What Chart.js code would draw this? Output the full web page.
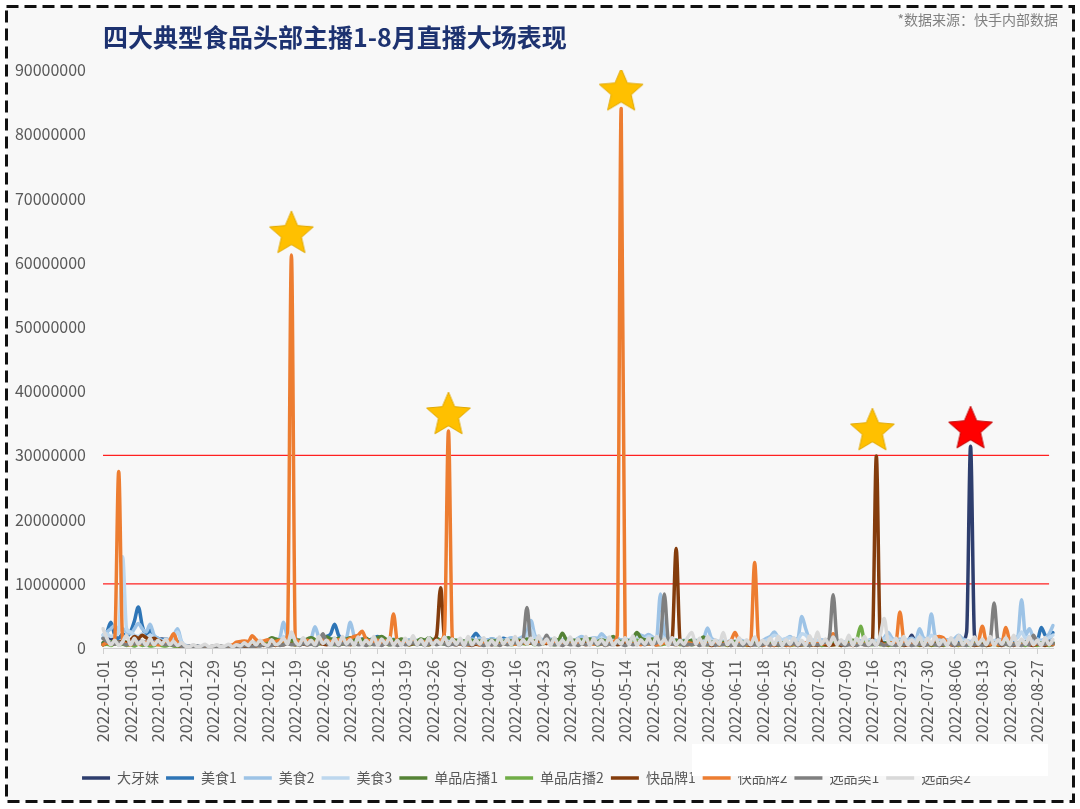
<!DOCTYPE html>
<html>
<head>
<meta charset="utf-8">
<title>四大典型食品头部主播1-8月直播大场表现</title>
<script src="https://cdn.jsdelivr.net/npm/chart.js@4.4.1/dist/chart.umd.min.js"></script>
<style>
  html, body { margin: 0; padding: 0; background: #fff; overflow: hidden; }
  #frame { position: absolute; left: 0; top: 0; }
  #myChart { position: absolute; left: 0; top: 0; }
  #patch { position: absolute; left: 692px; top: 744px; width: 356px; height: 32px; background: #fff; }
</style>
</head>
<body>
<svg id="frame" width="1080" height="809">
  <rect x="6.5" y="6.5" width="1067" height="795" fill="#f8f8f8" stroke="#111" stroke-width="3" stroke-dasharray="12 6"></rect>
</svg>
<canvas id="myChart" width="1080" height="809"></canvas>
<div id="patch"></div>
<script>
// values are in millions (x 1,000,000), one per day from 2022-01-01 to 2022-08-31
var UNIT = 1000000;
var START_DATE = "2022-01-01";

var daYaMei = [
  0.8,1.2,1.5,1.0,0.9,1.1,0.8, 1.0,0.9,1.2,1.0,0.9,1.1,1.3, 1.2,1.4,1.2,1.0,0.5,0.4,0.3, 0.2,0.2,0.1,0.2,0.1,0.1,0.2, 0.1,0.1,0.2,
  0.2,0.1,0.2,0.3,0.4,0.5,0.4, 0.6,0.5,0.7,0.6,0.8,0.7,0.9, 0.8,1.0,0.9,1.2,1.0,0.8,0.9, 1.1,0.9,1.0,0.8,1.2,1.0,0.9,
  1.1,0.9,1.0,1.2,0.8,1.0,0.9, 1.1,0.8,0.9,1.0,0.7,0.9,0.8, 1.0,0.7,0.8,0.9,0.6,0.8,0.7, 0.9,0.6,0.8,0.7,0.9,0.6,0.8, 0.7,0.6,0.8,
  0.7,0.6,0.8,0.7,0.9,0.7,0.8, 0.6,0.8,0.7,0.9,0.8,0.7,0.9, 0.8,0.7,0.9,0.8,1.0,0.8,0.7, 0.9,0.8,0.7,0.9,0.8,0.6,0.8, 0.7,0.9,
  0.8,0.7,0.9,0.8,0.6,0.8,0.7, 0.9,0.7,0.8,0.6,0.7,0.8,0.6, 0.7,0.8,0.6,0.7,0.9,0.7,0.6, 0.8,0.7,0.9,0.7,0.6,0.8,0.7, 0.6,0.8,0.7,
  0.6,0.8,0.7,0.6,0.8,0.7,0.5, 0.7,0.6,0.8,0.6,0.7,0.5,0.7, 0.6,0.5,0.7,0.6,0.8,0.6,0.5, 0.7,0.6,0.8,0.6,0.7,0.5,0.6, 0.7,0.6,
  0.5,0.7,0.6,0.5,0.7,0.6,0.8, 0.6,0.5,0.7,0.6,0.5,0.7,0.6, 0.8,0.6,0.5,0.7,0.6,0.8,0.6, 0.7,0.6,0.8,0.9,2.0,0.8,0.6, 0.7,0.9,0.8,
  0.7,0.8,0.6,0.9,0.7,0.8,0.9, 1.2,2.5,31.4,2.0,0.9,0.8,0.7, 0.9,0.8,0.7,0.9,0.8,0.7,0.9, 0.8,0.7,0.9,0.8,0.7,0.6,0.8, 0.7,0.9,0.8
];
var meiShi1 = [
  1.5,2.5,4.0,2.0,1.5,2.2,1.8, 2.5,4.2,6.4,3.5,2.0,2.8,1.8, 1.5,1.3,1.4,1.2,1.5,1.0,0.4, 0.3,0.2,0.3,0.2,0.2,0.1,0.2, 0.2,0.1,0.2,
  0.2,0.3,0.2,0.4,0.5,0.6,0.5, 0.8,0.7,0.6,0.9,0.8,1.0,0.9, 1.2,1.0,1.4,1.3,1.1,0.9,1.2, 1.0,1.3,1.1,0.9,1.5,1.8,2.2,
  3.7,2.0,1.4,1.2,1.5,1.3,1.1, 1.4,1.2,1.3,1.5,1.8,1.3,1.1, 1.2,1.0,1.3,1.1,0.9,1.2,1.0, 1.1,0.9,1.2,1.0,0.8,1.1,0.9, 1.0,0.8,1.0,
  0.9,1.1,1.0,1.2,1.5,2.3,1.5, 1.3,1.2,1.4,1.3,1.2,1.5,1.3, 1.2,1.4,1.1,1.3,1.0,1.2,0.9, 1.1,1.0,0.9,1.2,1.0,0.8,1.1, 0.9,1.0,
  0.9,0.8,1.0,0.9,0.7,1.0,0.8, 0.9,1.1,0.8,1.0,0.9,1.2,0.8, 0.9,1.0,0.8,1.1,0.9,0.8,1.0, 0.9,1.1,1.0,0.8,0.9,1.0,0.8, 0.9,1.1,1.0,
  0.8,1.0,0.9,0.7,0.9,0.8,1.0, 0.7,0.9,0.8,0.6,0.8,0.9,0.7, 0.8,0.6,0.7,0.9,0.8,0.6,0.7, 0.8,0.9,0.7,0.6,0.8,0.7,0.9, 0.8,0.7,
  0.7,0.8,0.6,0.7,0.9,0.8,0.6, 0.7,0.8,0.9,0.7,0.6,0.8,0.7, 0.9,0.8,0.7,0.6,0.8,0.7,0.9, 0.8,0.7,0.9,0.8,0.6,0.7,0.8, 0.9,0.7,0.8,
  0.8,0.9,0.7,0.8,1.0,0.9,0.8, 0.7,0.9,0.8,1.0,0.9,0.8,0.7, 0.9,1.0,0.8,0.9,0.7,1.0,0.9, 0.8,1.0,0.9,1.1,1.5,1.2,3.2, 2.0,1.5,2.4
];
var meiShi2 = [
  2.0,2.5,3.0,3.5,2.8,3.0,2.5, 2.2,3.0,3.8,3.0,2.5,3.7,2.0, 1.5,1.2,1.0,1.4,2.0,3.0,1.0, 0.4,0.3,0.2,0.3,0.2,0.2,0.1, 0.2,0.2,0.1,
  0.2,0.3,0.2,0.4,0.3,0.5,0.6, 0.5,0.7,0.6,0.8,0.7,1.0,1.2, 1.5,4.0,1.8,2.0,1.5,1.2,1.4, 1.3,1.5,3.3,1.6,1.2,1.0,1.3,
  1.5,1.2,1.4,1.6,4.0,1.8,1.2, 1.0,1.3,1.1,1.4,1.2,1.0,1.3, 1.1,1.4,1.2,1.0,1.3,1.1,0.9, 1.2,1.0,1.3,1.1,0.9,1.2,1.0, 0.9,1.1,1.0,
  1.1,1.3,1.0,1.2,1.4,1.2,1.5, 1.3,1.2,1.4,1.3,1.5,1.2,1.4, 1.6,1.3,1.5,1.8,2.5,4.3,2.0, 1.5,1.3,1.2,1.4,1.1,1.3,1.2, 1.4,1.3,
  1.2,1.5,1.8,1.3,1.4,1.6,1.5, 2.2,1.6,1.4,1.3,1.5,1.2,1.4, 1.3,1.6,2.2,2.0,1.8,2.1,1.7, 1.5,8.4,2.0,1.4,1.2,1.3,1.1, 1.2,1.0,1.2,
  1.2,1.0,1.4,3.1,1.5,1.2,1.0, 1.1,0.9,1.2,1.0,1.3,1.1,0.9, 1.0,1.2,0.9,1.1,1.5,1.8,2.5, 1.6,1.2,1.4,1.8,1.3,1.5,4.9, 3.0,1.4,
  1.2,1.0,1.3,1.1,0.9,1.2,1.0, 1.1,0.9,1.2,1.0,1.3,1.1,1.0, 1.2,1.4,1.1,1.3,1.6,2.4,1.5, 1.2,1.4,1.1,1.3,1.5,1.2,3.0, 1.6,1.4,5.3,
  1.8,1.4,1.2,1.3,1.1,1.5,2.0, 1.4,1.2,1.0,1.3,1.1,1.2,1.0, 1.3,1.1,1.4,1.2,1.5,1.3,1.6, 1.8,7.5,2.0,3.0,1.6,1.4,1.2, 1.5,2.2,3.5
];
var meiShi3 = [
  2.0,2.2,1.8,2.0,2.5,14.2,3.0, 2.5,2.0,1.8,2.2,1.6,2.0,1.5, 1.2,1.0,1.3,1.1,1.5,2.5,0.8, 0.3,0.2,0.2,0.1,0.2,0.1,0.2, 0.1,0.2,0.1,
  0.2,0.1,0.2,0.3,0.2,0.4,0.3, 0.5,0.4,0.6,0.5,0.7,0.6,0.8, 0.9,1.8,1.2,1.5,1.0,0.9,1.1, 1.0,0.8,1.2,1.0,0.9,1.1,0.8,
  1.0,0.9,1.1,0.8,1.6,1.0,0.9, 0.8,1.0,0.9,1.1,0.8,0.9,1.0, 0.8,1.1,0.9,0.8,1.0,0.9,0.7, 0.9,0.8,1.0,0.9,0.7,0.9,0.8, 0.7,0.9,0.8,
  0.9,0.8,1.0,0.9,1.1,1.0,0.9, 1.0,0.8,1.1,0.9,1.0,0.8,1.0, 1.1,0.9,1.2,1.5,2.0,2.8,1.6, 1.2,1.0,0.9,1.1,1.0,0.8,1.0, 0.9,1.1,
  1.0,1.2,1.0,0.9,1.1,1.3,1.0, 1.5,1.2,1.0,1.1,0.9,1.0,1.2, 1.0,1.3,1.5,1.6,1.4,1.8,1.5, 1.3,2.0,1.5,1.2,1.0,1.1,0.9, 1.0,1.1,0.9,
  1.0,0.9,1.1,1.8,1.2,1.0,0.9, 1.0,0.8,1.0,0.9,1.1,0.9,0.8, 1.0,1.2,0.9,1.0,1.2,1.5,2.0, 1.8,1.3,1.5,1.6,1.2,1.3,2.2, 2.0,1.3,
  1.0,1.2,0.9,1.0,0.8,1.1,0.9, 1.0,0.8,1.1,0.9,1.0,0.8,0.9, 1.1,1.2,1.0,1.3,1.4,1.8,1.2, 1.0,1.1,0.9,1.0,1.2,1.0,1.8, 1.3,1.2,2.0,
  1.5,1.2,1.0,1.1,0.9,1.2,1.4, 1.1,1.0,0.9,1.1,1.0,1.2,0.9, 1.0,1.1,1.2,1.0,1.3,1.1,1.4, 1.6,2.5,1.5,1.8,1.3,1.2,1.0, 1.3,1.6,2.0
];
var danPin1 = [
  0.8,1.0,0.9,1.1,0.8,1.0,0.9, 0.7,0.9,0.8,1.0,0.7,0.9,0.8, 0.6,0.8,0.7,0.5,0.6,0.4,0.3, 0.2,0.2,0.1,0.2,0.1,0.2,0.1, 0.1,0.2,0.1,
  0.2,0.1,0.2,0.3,0.2,0.4,0.3, 0.5,0.6,0.8,0.9,1.2,1.6,1.4, 1.2,1.0,0.9,1.1,1.3,1.2,1.0, 1.4,1.6,1.3,1.1,1.5,1.7,1.4,
  1.3,1.5,1.2,1.4,1.6,1.3,1.1, 1.3,1.5,1.2,1.4,1.6,1.8,1.4, 1.2,1.3,1.1,1.4,1.2,1.0,1.3, 1.1,1.4,1.2,1.6,1.3,1.5,1.2, 1.4,1.6,1.3,
  1.2,1.0,1.1,0.9,1.2,1.0,1.1, 0.9,1.0,1.2,1.1,1.3,1.0,1.2, 1.1,1.3,1.2,1.0,1.4,1.2,1.1, 1.3,1.0,1.2,1.1,1.4,1.2,2.3, 1.3,1.1,
  1.2,1.0,1.3,1.1,1.4,1.2,1.0, 1.3,1.1,1.4,1.8,1.2,1.0,1.3, 1.1,1.5,2.4,1.6,1.3,1.1,1.4, 1.2,1.0,1.3,1.1,1.0,1.2,0.9, 1.1,1.0,1.2,
  1.0,1.2,1.7,1.1,0.9,1.0,0.8, 0.9,0.7,0.8,1.0,0.7,0.9,0.8, 0.6,0.8,0.7,0.9,0.6,0.8,0.7, 0.6,0.8,0.7,0.5,0.7,0.6,0.8, 0.7,0.6,
  0.8,0.6,0.7,0.9,0.7,0.8,1.0, 0.8,0.7,0.9,1.2,1.0,0.8,0.7, 0.9,0.8,0.6,0.8,0.7,0.9,0.8, 0.7,0.9,0.8,0.6,0.8,0.7,0.9, 0.8,0.7,0.6,
  0.7,0.8,0.6,0.7,0.9,0.7,0.6, 0.8,0.7,0.6,0.8,0.9,0.7,0.6, 0.8,0.7,0.9,0.6,0.8,0.7,0.6, 0.8,0.7,0.9,0.8,0.6,0.7,0.8, 0.6,0.7,0.8
];
var danPin2 = [
  0.5,0.6,0.4,0.7,0.5,0.6,0.4, 0.5,0.3,0.6,0.4,0.5,0.3,0.4, 0.6,0.4,0.3,0.5,0.3,0.2,0.2, 0.1,0.1,0.2,0.1,0.1,0.1,0.2, 0.1,0.1,0.1,
  0.1,0.2,0.1,0.2,0.3,0.2,0.4, 0.3,0.5,0.4,0.6,0.8,1.0,0.8, 0.7,0.6,0.8,0.7,0.5,0.7,0.6, 0.8,0.7,0.5,0.6,0.8,0.7,0.6,
  0.5,0.7,0.6,0.8,0.6,0.5,0.7, 0.6,0.8,0.5,0.7,0.6,0.8,0.7, 0.5,0.6,0.8,0.6,0.7,0.5,0.6, 0.8,0.6,0.7,0.5,0.6,0.8,0.7, 0.6,0.5,0.7,
  0.6,0.8,0.5,0.7,0.6,0.8,0.7, 0.5,0.6,0.7,0.5,0.8,0.6,0.7, 0.5,0.6,0.8,0.7,0.6,0.8,0.5, 0.7,0.6,0.8,0.7,0.5,0.6,0.8, 0.7,0.6,
  0.7,0.5,0.6,0.8,0.6,0.7,0.5, 0.6,0.8,0.7,0.9,0.6,0.7,0.5, 0.6,0.8,1.2,0.9,0.7,0.6,0.8, 0.7,0.5,0.6,0.8,0.6,0.7,0.5, 0.6,0.7,0.5,
  0.6,0.8,0.7,0.5,0.6,0.7,0.5, 0.6,0.4,0.5,0.7,0.5,0.6,0.4, 0.5,0.6,0.4,0.5,0.7,0.5,0.6, 0.4,0.5,0.6,0.4,0.5,0.7,0.5, 0.6,0.4,
  0.5,0.6,0.4,0.5,0.7,0.5,0.6, 0.4,0.5,0.6,0.8,1.2,3.4,1.0, 0.6,0.5,0.7,0.5,0.6,0.4,0.5, 0.6,0.4,0.5,0.7,0.5,0.6,0.4, 0.5,0.6,0.4,
  0.5,0.6,0.4,0.5,0.7,0.5,0.4, 0.6,0.5,0.4,0.6,0.5,0.7,0.4, 0.5,0.6,0.4,0.5,0.6,0.4,0.5, 0.7,0.5,0.4,0.6,0.5,0.4,0.6, 0.5,0.4,0.6
];
var kuaiPin1 = [
  0.5,0.8,0.6,0.7,0.9,1.0,0.8, 1.2,1.8,1.5,2.0,1.6,1.3,1.5, 1.2,1.0,0.8,0.6,0.5,0.4,0.3, 0.2,0.2,0.1,0.2,0.1,0.1,0.2, 0.1,0.1,0.1,
  0.1,0.2,0.1,0.2,0.3,0.2,0.3, 0.4,0.3,0.5,0.4,0.6,0.5,0.4, 0.6,0.5,0.7,0.6,0.5,0.7,0.6, 0.5,0.7,0.6,0.8,0.6,0.5,0.7,
  0.6,0.5,0.7,0.6,0.5,0.8,0.6, 0.7,0.5,0.6,0.8,0.6,0.5,0.7, 0.6,0.8,0.5,0.7,0.6,0.5,0.7, 0.6,0.8,0.6,0.5,1.0,2.0,9.4, 1.5,0.8,0.6,
  0.5,0.7,0.6,0.5,0.4,0.6,0.5, 0.7,0.6,0.5,0.7,0.6,0.8,1.0, 0.9,0.8,1.0,0.9,0.7,0.8,0.9, 1.0,0.8,0.7,0.9,0.8,0.6,0.8, 0.7,0.6,
  0.7,0.8,0.6,0.7,0.9,0.8,0.6, 0.7,0.8,0.6,0.7,0.5,0.6,0.8, 0.7,0.6,0.8,0.7,0.6,0.8,0.7, 0.5,0.6,0.8,0.7,1.5,15.5,1.2, 0.6,0.5,0.7,
  0.6,0.5,0.7,0.6,0.4,0.5,0.7, 0.6,0.5,0.4,0.6,0.5,0.7,0.5, 0.4,0.6,0.5,0.4,0.6,0.5,0.4, 0.5,0.6,0.4,0.5,0.6,0.4,0.5, 0.6,0.4,
  0.5,0.4,0.6,0.5,0.4,0.5,0.6, 0.4,0.5,0.6,0.4,0.5,0.7,0.5, 0.6,1.2,29.9,1.5,0.6,0.5,0.7, 0.5,0.6,0.4,0.5,0.7,0.6,0.5, 0.4,0.6,0.5,
  0.6,0.4,0.5,0.7,0.5,0.4,0.6, 0.5,0.7,0.6,0.4,0.5,0.6,0.4, 0.5,0.7,0.5,0.4,0.6,0.5,0.4, 0.6,0.5,0.7,0.5,0.4,0.6,0.5, 0.4,0.6,0.5
];
var kuaiPin2 = [
  0.5,0.8,0.6,1.5,27.5,1.2,0.6, 0.5,0.8,0.6,0.7,0.9,0.6,0.8, 0.5,0.7,0.9,1.2,2.2,0.8,0.3, 0.2,0.1,0.2,0.1,0.1,0.2,0.1, 0.1,0.2,0.1,
  0.2,0.3,0.5,0.9,1.0,1.1,1.0, 1.9,1.3,1.0,1.1,1.3,1.1,1.0, 1.2,1.1,2.0,61.2,1.5,1.0,0.8, 1.2,1.0,0.9,1.1,1.3,1.2,1.0,
  1.1,1.3,1.0,1.2,1.5,1.8,2.0, 2.6,1.4,1.1,1.0,1.2,0.9,1.1, 1.3,5.3,1.0,0.8,1.0,0.9,1.1, 0.8,1.0,0.9,0.7,0.9,0.8,1.2, 2.5,33.8,1.5,
  0.8,0.6,0.7,0.5,0.6,0.8,0.5, 0.7,0.6,0.8,0.7,0.5,0.6,0.8, 0.7,0.6,0.8,0.9,0.7,1.0,0.8, 0.6,0.7,0.9,0.6,0.8,0.7,0.5, 0.7,0.6,
  0.7,0.6,0.8,0.5,0.7,0.6,0.8, 0.7,0.5,0.6,1.0,2.0,84.0,1.5, 0.8,0.6,0.7,0.5,0.8,0.6,0.7, 0.5,0.6,0.8,0.7,0.6,0.5,0.7, 0.6,0.8,0.7,
  0.6,0.7,0.5,0.6,0.8,0.7,0.5, 0.6,0.8,1.2,2.4,1.0,0.6,0.5, 1.0,13.3,1.0,0.5,0.6,0.4,0.5, 0.6,0.7,0.5,0.4,0.6,0.5,0.7, 0.8,0.6,
  0.5,0.7,0.6,0.8,1.2,2.2,1.0, 0.7,0.5,0.6,0.8,0.5,0.7,0.6, 0.5,0.8,0.6,0.7,0.5,0.6,0.8, 1.0,5.6,1.2,0.6,0.5,0.7,0.6, 0.5,0.7,0.6,
  1.5,1.8,1.6,0.8,0.6,0.7,0.5, 0.6,0.8,0.7,0.6,1.0,3.4,0.9, 0.6,0.7,0.5,0.8,3.2,1.0,0.6, 0.7,0.5,0.6,0.8,0.6,0.7,0.5, 0.6,0.8,0.6
];
var xuanPin1 = [
  1.5,1.0,0.8,0.6,0.9,0.7,0.5, 0.8,0.6,0.9,0.7,0.5,0.8,0.6, 0.9,0.7,0.5,0.6,0.4,0.5,0.3, 0.2,0.3,0.2,0.3,0.2,0.3,0.2, 0.3,0.2,0.3,
  0.2,0.3,0.2,0.3,0.2,0.4,0.3, 0.2,0.4,0.3,0.5,0.3,0.4,0.6, 0.4,0.5,0.7,0.5,0.6,0.4,0.7, 0.5,0.6,0.4,0.7,2.2,0.8,0.5,
  0.6,0.4,0.7,0.5,0.6,0.8,0.5, 0.6,0.4,0.7,0.5,0.6,0.4,0.8, 0.5,0.6,0.4,0.7,0.5,0.6,0.8, 0.5,0.7,0.4,0.6,0.8,0.5,0.7, 0.6,0.4,0.6,
  0.5,0.7,0.4,0.6,0.5,0.8,0.6, 0.4,0.7,0.5,0.6,0.4,0.7,0.5, 0.6,0.8,0.5,1.2,6.3,1.0,0.6, 0.5,0.7,2.0,0.8,0.5,0.6,0.4, 0.7,0.5,
  0.6,0.4,0.7,0.5,0.6,0.8,0.5, 0.7,0.4,0.6,0.5,0.8,0.6,0.4, 0.7,0.5,0.6,0.8,0.5,0.7,0.6, 0.8,1.5,8.4,1.2,0.6,0.5,0.7, 0.4,0.6,0.5,
  0.7,0.4,0.6,0.5,0.8,0.4,0.6, 0.5,0.7,0.4,0.6,0.5,0.4,0.7, 0.5,0.6,0.4,0.5,0.7,0.4,0.6, 0.5,0.4,0.6,0.5,0.7,0.4,0.6, 0.5,0.4,
  0.6,0.5,0.7,0.9,1.5,8.3,1.2, 0.6,0.4,0.5,0.7,0.4,0.6,0.5, 0.4,0.6,0.5,0.7,0.4,0.6,0.5, 0.4,0.6,0.5,0.7,0.4,0.5,0.6, 0.4,0.5,0.7,
  0.5,0.4,0.6,0.5,0.7,0.4,0.6, 0.5,0.4,0.6,0.5,0.7,0.4,0.6, 1.2,7.0,1.0,0.5,0.6,0.4,0.5, 0.7,0.4,0.6,0.5,2.0,0.8,0.5, 0.6,1.0,0.7
];
var xuanPin2 = [
  3.0,1.5,0.5,1.2,0.4,1.0,2.0, 0.5,1.5,0.6,1.2,0.4,1.5,0.5, 1.2,0.6,1.4,0.5,1.0,0.4,0.8, 0.3,0.2,0.5,0.2,0.3,0.6,0.2, 0.3,0.5,0.2,
  0.3,0.6,0.2,0.5,0.3,0.8,0.4, 1.0,0.5,1.2,0.6,0.4,1.3,0.5, 0.8,1.5,0.6,2.5,1.0,0.5,1.6, 0.6,1.2,0.5,1.8,0.7,1.2,0.4,
  1.5,0.5,1.8,0.6,1.3,0.4,1.7, 0.5,1.2,0.6,1.8,0.4,1.4,0.6, 1.6,0.5,1.2,0.4,1.5,0.6,1.9, 0.5,1.3,0.4,1.6,0.5,1.2,0.6, 1.7,0.5,1.4,
  0.6,1.5,0.4,1.8,0.5,1.3,0.6, 1.6,0.4,1.2,0.5,1.7,0.6,1.4, 0.5,1.8,0.4,1.3,0.6,1.5,0.5, 1.9,0.6,1.4,0.4,1.6,0.5,1.2, 0.6,1.7,
  0.5,1.4,0.6,1.8,0.4,1.5,0.6, 1.3,0.5,1.7,0.4,1.2,0.6,1.6, 0.5,1.9,0.4,1.3,0.6,1.5,0.5, 1.8,0.6,1.4,0.4,1.6,0.5,1.2, 0.6,1.7,2.4,
  0.6,1.5,0.4,1.8,0.5,1.3,0.6, 2.4,0.5,1.2,0.4,1.6,0.6,1.3, 0.5,1.7,0.4,1.2,0.6,1.5,0.5, 1.8,0.4,1.3,0.6,1.6,0.5,1.2, 0.4,1.9,
  0.5,2.5,0.6,1.4,0.4,1.7,0.5, 1.3,0.6,2.0,0.4,1.5,0.6,1.8, 0.5,1.2,0.4,2.0,4.6,1.0,0.6, 1.5,0.4,1.8,0.5,1.3,0.6,1.7, 0.4,1.5,0.6,
  1.8,0.5,1.3,0.4,1.6,0.6,1.9, 0.5,1.2,0.4,1.7,0.6,1.4,0.5, 1.8,0.4,1.3,0.6,1.6,0.5,2.0, 0.4,1.4,0.6,1.7,0.5,1.2,0.4, 1.6,0.5,1.3
];

var seriesNames = ["大牙妹", "美食1", "美食2", "美食3", "单品店播1", "单品店播2", "快品牌1", "快品牌2", "选品类1", "选品类2"];
var seriesValues = [daYaMei, meiShi1, meiShi2, meiShi3, danPin1, danPin2, kuaiPin1, kuaiPin2, xuanPin1, xuanPin2];
var seriesColors = ["#2e3e6e", "#2e75b6", "#9dc3e6", "#bdd7ee", "#548235", "#70ad47", "#843c0c", "#ed7d31", "#7f7f7f", "#d9d9d9"];

// red guide lines (millions)
var guideValues = [30, 10];
var guideEnd = "2022-08-30";

// stars marking the big sessions (millions)
var starDates = ["2022-02-18", "2022-03-30", "2022-05-13", "2022-07-16", "2022-08-10"];
var starValues = [64.8, 36.6, 87.0, 34.1, 34.4];
var starColors = ["#ffc000", "#ffc000", "#ffc000", "#ffc000", "#ff0000"];

var TITLE = "四大典型食品头部主播1-8月直播大场表现";
var SOURCE = "*数据来源：快手内部数据";

// one label per day
var dates = daYaMei.map(function (_, i) {
  var d = new Date(START_DATE + "T00:00:00Z");
  d.setUTCDate(d.getUTCDate() + i);
  return d.toISOString().slice(0, 10);
});

function makeStar(fill, edge) {
  var c = document.createElement("canvas");
  c.width = 50; c.height = 50;
  var g = c.getContext("2d");
  var R = 23, r = 10.5, cx = 25, cy = 25 + R * 0.095;
  g.beginPath();
  for (var k = 0; k < 10; k++) {
    var rad = k % 2 === 0 ? R : r;
    var a = -Math.PI / 2 + k * Math.PI / 5;
    g.lineTo(cx + rad * Math.cos(a), cy + rad * Math.sin(a));
  }
  g.closePath();
  g.fillStyle = fill;
  g.fill();
  g.lineWidth = 1;
  g.strokeStyle = edge;
  g.stroke();
  return c;
}

var datasets = seriesNames.map(function (name, i) {
  return {
    label: name,
    data: seriesValues[i].map(function (v) { return v * UNIT; }),
    borderColor: seriesColors[i],
    backgroundColor: seriesColors[i],
    borderWidth: 3.5,
    borderJoinStyle: "round",
    borderCapStyle: "round",
    pointRadius: 0,
    cubicInterpolationMode: "monotone",
    order: seriesNames.length - i
  };
});

// guides sit under the series
guideValues.forEach(function (v) {
  datasets.push({
    label: "guide",
    data: [{ x: dates[0], y: v * UNIT }, { x: guideEnd, y: v * UNIT }],
    borderColor: "#ff2020",
    borderWidth: 1.3,
    pointRadius: 0,
    order: 20
  });
});

datasets.push({
  label: "star",
  data: starDates.map(function (d, k) { return { x: d, y: starValues[k] * UNIT }; }),
  showLine: false,
  pointStyle: starColors.map(function (c) { return makeStar(c, c === "#ff0000" ? "#c00000" : "#e0a800"); }),
  pointRadius: 23,
  order: -2
});

var sourceNote = {
  id: "sourceNote",
  afterDraw: function (chart) {
    var ctx = chart.ctx;
    ctx.save();
    ctx.font = '14px "Noto Sans CJK SC", sans-serif';
    ctx.fillStyle = "#808080";
    ctx.textAlign = "right";
    ctx.textBaseline = "middle";
    ctx.fillText(SOURCE, 1058, 20);
    ctx.restore();
  }
};

Chart.defaults.font.family = '"Noto Sans CJK SC", "Noto Sans", sans-serif';
Chart.defaults.color = "#595959";

var ctx = document.getElementById("myChart");
var myChart = new Chart(ctx, {
  type: "line",
  data: {
    labels: dates,
    datasets: datasets
  },
  plugins: [sourceNote],
  options: {
    responsive: false,
    animation: false,
    layout: { padding: { top: 0, left: 0, right: 27, bottom: 14 } },
    scales: {
      x: {
        ticks: {
          autoSkip: false,
          minRotation: 90,
          maxRotation: 90,
          padding: 6,
          font: { size: 16 },
          color: "#595959",
          callback: function (val, index) {
            return index % 7 === 0 ? this.getLabelForValue(val) : null;
          }
        },
        grid: { display: true, drawOnChartArea: false, tickLength: 6, color: "#cfcfcf" },
        border: { display: true, color: "#cfcfcf" },
        afterFit: function (scale) { scale.height = 116; }
      },
      y: {
        min: 0,
        max: 90 * UNIT,
        ticks: {
          stepSize: 10 * UNIT,
          padding: 9,
          font: { size: 16 },
          color: "#595959",
          callback: function (v) { return String(v); }
        },
        grid: { display: false },
        border: { display: false },
        afterFit: function (scale) { scale.width = 103; }
      }
    },
    plugins: {
      title: {
        display: true,
        text: TITLE,
        align: "start",
        fullSize: false,
        color: "#1d3270",
        font: { size: 25, weight: "bold" },
        padding: { top: 22, bottom: 18 }
      },
      legend: {
        position: "bottom",
        labels: {
          usePointStyle: true,
          pointStyle: "line",
          pointStyleWidth: 28,
          padding: 7,
          color: "#595959",
          font: { size: 14 },
          filter: function (item) { return item.datasetIndex < seriesNames.length; },
          sort: function (a, b) { return a.datasetIndex - b.datasetIndex; }
        }
      },
      tooltip: { enabled: false }
    }
  }
});
</script>
</body>
</html>
